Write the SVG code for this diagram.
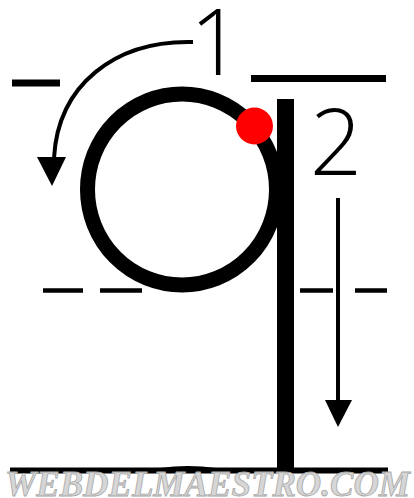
<svg xmlns="http://www.w3.org/2000/svg" width="414" height="498" viewBox="0 0 414 498">
  <style>
    .guide { stroke: #000; stroke-linecap: butt; fill: none; }
    .ink { fill: #000; }
    .num { font-family: "Open Sans", Roboto, "DejaVu Sans", sans-serif; font-weight: 300; font-size: 92px; fill: #000; }
    .arrow { stroke: #000; stroke-width: 4; fill: none; }
    .mark { font-family: "Liberation Serif", "Times New Roman", serif; font-style: italic; font-weight: bold; font-size: 35px; fill: #d6d6d6; stroke: #a8a8a8; stroke-width: 0.8; }
  </style>
  <rect width="414" height="498" fill="#fff"/>

  <g id="guidelines">
    <line class="guide" x1="12" y1="83" x2="60" y2="83" stroke-width="7"/>
    <line class="guide" x1="251" y1="78.5" x2="386" y2="78.5" stroke-width="7"/>
    <g stroke-width="4.5" class="guide">
      <line x1="43" y1="290.5" x2="83" y2="290.5"/>
      <line x1="100" y1="290.5" x2="142" y2="290.5"/>
      <line x1="300" y1="290.5" x2="333" y2="290.5"/>
      <line x1="355" y1="290.5" x2="387" y2="290.5"/>
    </g>
    <line class="guide" x1="10" y1="470.5" x2="388" y2="470.5" stroke-width="6"/>
    <path class="ink" d="M160,468 Q188,464 216,468 Z"/>
  </g>

  <g id="letter-q">
    <ellipse cx="182" cy="189.5" rx="94.5" ry="95.5" fill="none" stroke="#000" stroke-width="15"/>
    <rect class="ink" x="277" y="99" width="17" height="370"/>
  </g>

  <g id="start-dot">
    <circle cx="254.5" cy="126" r="18.5" fill="#ff0000"/>
  </g>

  <g id="label-1">
    <text class="num" x="216" y="75" text-anchor="middle">1</text>
  </g>

  <g id="label-2">
    <text class="num" x="336" y="175" text-anchor="middle">2</text>
  </g>

  <g id="connectors">
    <path class="arrow" d="M193,42 C115,40 58,85 54,158"/>
    <polygon class="ink" points="37,157 66,157 52,186"/>
    <line class="arrow" x1="338" y1="198" x2="338" y2="402"/>
    <polygon class="ink" points="325,400 352,400 338,427"/>
  </g>

  <g id="watermark">
    <text class="mark" x="5" y="496" textLength="405" lengthAdjust="spacingAndGlyphs">WEBDELMAESTRO.COM</text>
  </g>
</svg>
